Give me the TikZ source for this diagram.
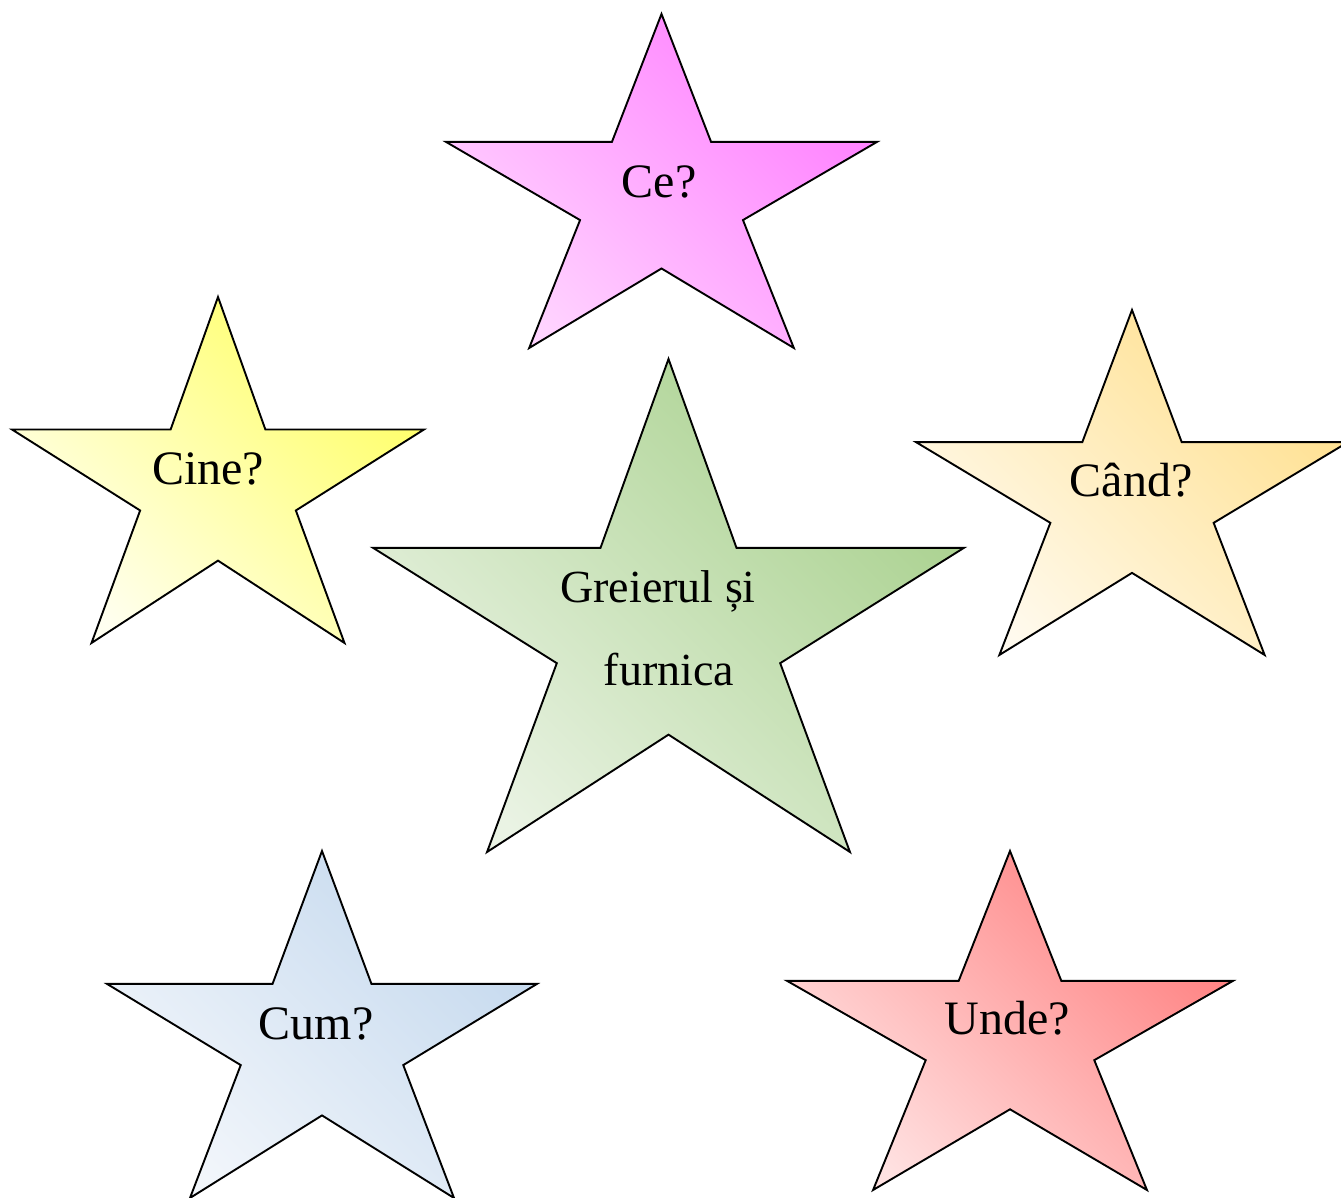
\documentclass[tikz,border=0pt]{standalone}
\usepackage{fontspec}
\setmainfont{Liberation Serif}
\tikzset{
  starline/.style={draw=black, line width=1.9pt, line join=miter},
  lbl/.style={anchor=base, inner sep=0pt, font=\fontsize{48}{54}\selectfont},
  lblc/.style={anchor=base, inner sep=0pt, font=\fontsize{46}{52}\selectfont}
}
\newcommand\mystar[6]{%
  \pgfmathsetmacro\sL{#1}\pgfmathsetmacro\sT{1198-#2}%
  \pgfmathsetmacro\sW{#3-#1}\pgfmathsetmacro\sH{#4-#2}%
  \draw[starline, top color=#5, bottom color=#6, shading angle=-45]
    ({\sL+0.5*\sW},{\sT})
    -- ({\sL+0.615*\sW},{\sT-0.383*\sH})
    -- ({\sL+1.0*\sW},{\sT-0.383*\sH})
    -- ({\sL+0.689*\sW},{\sT-0.617*\sH})
    -- ({\sL+0.807*\sW},{\sT-1.0*\sH})
    -- ({\sL+0.5*\sW},{\sT-0.762*\sH})
    -- ({\sL+0.193*\sW},{\sT-1.0*\sH})
    -- ({\sL+0.311*\sW},{\sT-0.617*\sH})
    -- ({\sL+0.0*\sW},{\sT-0.383*\sH})
    -- ({\sL+0.385*\sW},{\sT-0.383*\sH})
    -- cycle;}
\definecolor{ceD}{HTML}{FF7FFF}\definecolor{ceL}{HTML}{FFD4FF}
\definecolor{ciD}{HTML}{FFFF66}\definecolor{ciL}{HTML}{FFFFF0}
\definecolor{caD}{HTML}{FFE08F}\definecolor{caL}{HTML}{FFFAEE}
\definecolor{grD}{HTML}{A9D18E}\definecolor{grL}{HTML}{EAF3E4}
\definecolor{cuD}{HTML}{C5D9EE}\definecolor{cuL}{HTML}{F2F6FB}
\definecolor{unD}{HTML}{FF8080}\definecolor{unL}{HTML}{FFE2E2}
\begin{document}
\begin{tikzpicture}[x=1pt,y=1pt]
\useasboundingbox (0,0) rectangle (1341,1198);
\begin{scope}
\clip (0,0) rectangle (1341,1198);
\mystar{446}{14}{877}{348}{ceD}{ceL}
\mystar{12}{297}{424}{643}{ciD}{ciL}
\mystar{916}{310}{1348}{655}{caD}{caL}
\mystar{373}{359}{964}{852}{grD}{grL}
\mystar{107}{851}{537}{1198}{cuD}{cuL}
\mystar{787}{851}{1233}{1190}{unD}{unL}
\end{scope}
\node[lbl] (ce) at (659,{1198-198}) {Ce?};
\node[lbl] (cine) at (208,{1198-485}) {Cine?};
\node[lbl] (cand) at (1131,{1198-497}) {Când?};
\node[lbl] (cum) at (316,{1198-1040}) {Cum?};
\node[lbl] (unde) at (1007,{1198-1035}) {Unde?};
\node[lblc] (t1) at (658,{1198-603}) {Greierul și};
\node[lblc] (t2) at (669,{1198-686}) {furnica};
\end{tikzpicture}
\end{document}
